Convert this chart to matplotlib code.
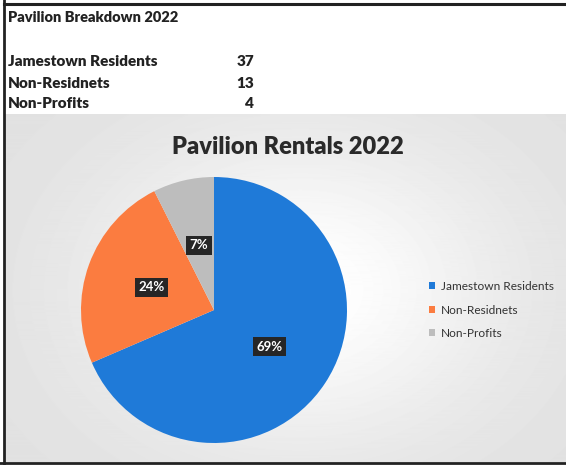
import numpy as np
import matplotlib.pyplot as plt

plt.rcParams['font.family'] = ['Lato', 'DejaVu Sans']

# table + chart data
table_title = "Pavilion Breakdown 2022"
chart_title = "Pavilion Rentals 2022"
categories = ["Jamestown Residents", "Non-Residnets", "Non-Profits"]
counts = [37, 13, 4]
colors = ["#1f7ad8", "#fb7c40", "#bdbdbd"]

W, H = 566, 465
fig = plt.figure(figsize=(W / 100, H / 100), dpi=100)
fig.patch.set_facecolor("white")


def fx(px):
    return px / W


def fy(py):
    return 1 - py / H


# greyish backdrop behind the chart block
bg = fig.add_axes([0, 0, 1, 1], zorder=-5)
bg.set_xlim(0, W)
bg.set_ylim(H, 0)
bg.axis("off")
yy, xx = np.mgrid[115:462, 5:566]
cx, cy = 300, 290
shade = 0.88 + 0.12 * np.exp(-(((xx - cx) / 250.0) ** 2 + ((yy - cy) / 190.0) ** 2) * 1.6)
bg.imshow(shade, cmap="gray", vmin=0, vmax=1, extent=(5, 566, 462, 115),
          aspect="auto", zorder=0)

# scan border lines
bg.plot([4, 566], [4, 4], color="#222222", lw=2.2, zorder=2)
bg.plot([4, 4], [0, 465], color="#222222", lw=2.0, zorder=2)
bg.plot([0, 566], [463, 463], color="#222222", lw=2.0, zorder=2)

# spreadsheet table
fig.text(fx(8), fy(18), table_title, fontsize=10.5, fontweight="heavy",
         color="#222222", va="center", ha="left")
for i, (name, n) in enumerate(zip(categories, counts)):
    y = 62 + i * 21
    fig.text(fx(8), fy(y), name, fontsize=11, fontweight="heavy",
             color="#222222", va="center", ha="left")
    fig.text(fx(254), fy(y), str(n), fontsize=11, fontweight="heavy",
             color="#222222", va="center", ha="right")

# pie chart
r = 133
cxp, cyp = 214, 310
ax = fig.add_axes([fx(cxp - r), fy(cyp + r), 2 * r / W, 2 * r / H])
wedges, texts, autotexts = ax.pie(
    counts, colors=colors, startangle=90, counterclock=False,
    autopct=lambda p: f"{p:.0f}%", pctdistance=0.5,
    wedgeprops=dict(linewidth=0),
    textprops=dict(color="white", fontsize=9.5, fontweight="bold"),
)
for t in autotexts:
    t.set_bbox(dict(boxstyle="square,pad=0.28", facecolor="#262626", edgecolor="none"))
ax.set_xlim(-1, 1)
ax.set_ylim(-1, 1)
ax.set_aspect("auto")
ax.axis("off")

fig.text(fx(288), fy(147), chart_title, fontsize=17, fontweight="heavy",
         color="#2a2a2a", ha="center", va="center")

fig.legend(wedges, categories, loc="center left",
           bbox_to_anchor=(fx(418), fy(310)), frameon=False,
           fontsize=8.6, labelcolor="#333333", handlelength=0.55,
           handleheight=0.55, labelspacing=1.05, handletextpad=0.5)

fig.savefig("out.png", dpi=100)
